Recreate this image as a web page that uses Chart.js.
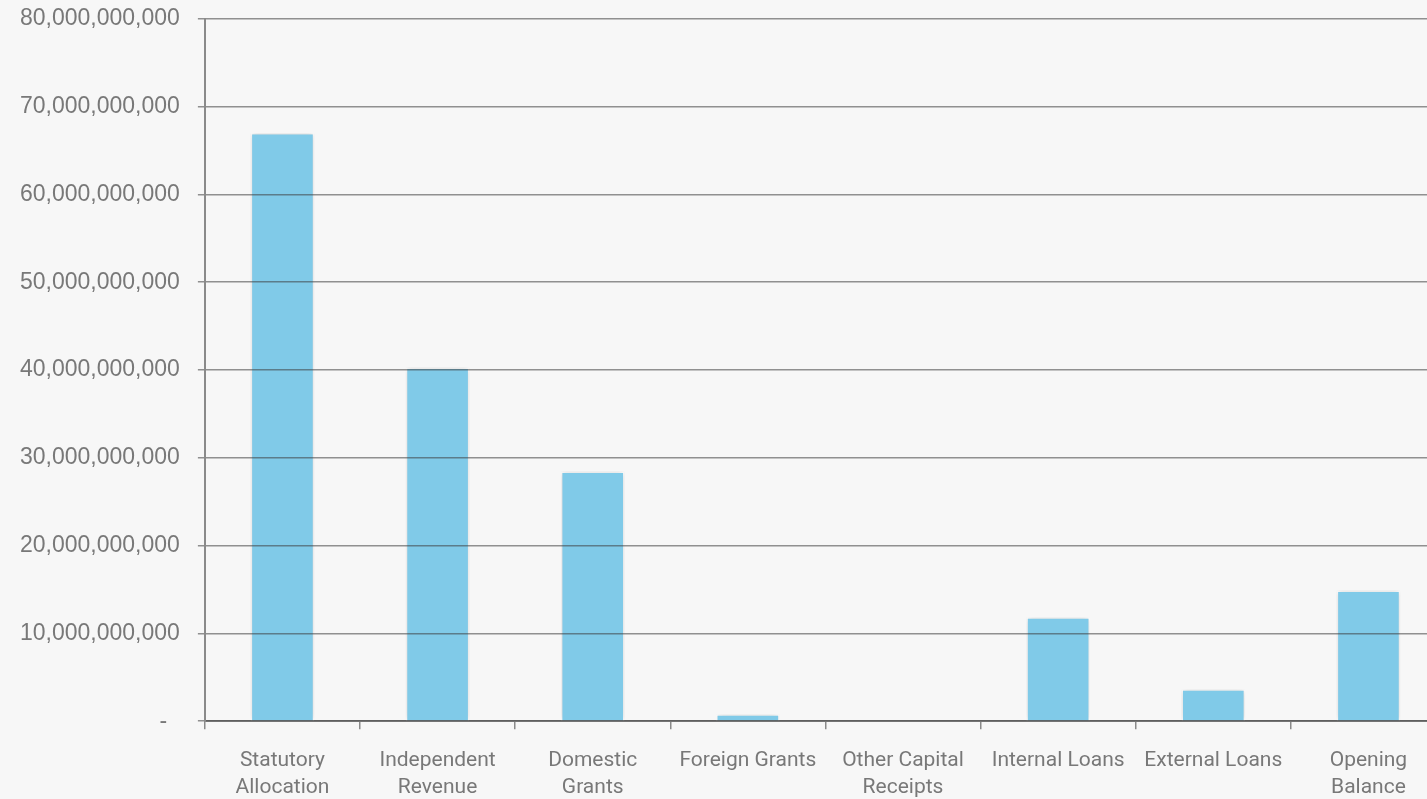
<!DOCTYPE html>
<html>
<head>
<meta charset="utf-8">
<script src="https://cdn.jsdelivr.net/npm/chart.js@4.4.1/dist/chart.umd.min.js"></script>
<style>
  html, body { margin: 0; padding: 0; background: #f7f7f7; overflow: hidden; }
  #wrap { position: absolute; top: -13px; left: 0; width: 1446px; height: 832px; }
</style>
</head>
<body>
<div id="wrap"><canvas id="grafico"></canvas></div>
<script>
// Categorías de ingresos (etiquetas en dos líneas)
const categorias = [
  ['Statutory', 'Allocation'],
  ['Independent', 'Revenue'],
  ['Domestic', 'Grants'],
  'Foreign Grants',
  ['Other Capital', 'Receipts'],
  'Internal Loans',
  'External Loans',
  ['Opening', 'Balance'],
];

// Montos por categoría
const montos = [
  67000000000,
  40300000000,
  28450000000,
  800000000,
  0,
  11850000000,
  3650000000,
  14900000000,
];

const ejeMin = 0;
const ejeMax = 80000000000;
const ejePaso = 10000000000;

// Sombra suave alrededor de las barras
const sombraBarras = {
  id: 'sombraBarras',
  beforeDatasetsDraw(chart) {
    const ctx = chart.ctx;
    ctx.save();
    ctx.shadowColor = 'rgba(0, 0, 0, 0.18)';
    ctx.shadowBlur = 6;
  },
  afterDatasetsDraw(chart) {
    chart.ctx.restore();
  },
};

function formatoMonto(valor) {
  if (valor === 0) return '-  ';
  return valor.toLocaleString('en-US');
}

const ctx = document.getElementById('grafico').getContext('2d');
new Chart(ctx, {
  type: 'bar',
  data: {
    labels: categorias,
    datasets: [{
      data: montos,
      backgroundColor: '#80cae8',
      borderColor: '#ffffff',
      borderWidth: 1.5,
      borderSkipped: 'bottom',
      barPercentage: 0.82,
      categoryPercentage: 0.5,
    }],
  },
  plugins: [sombraBarras],
  options: {
    responsive: true,
    maintainAspectRatio: false,
    animation: false,
    layout: { padding: { top: 0, right: 0, left: 2, bottom: 0 } },
    plugins: {
      legend: { display: false },
      tooltip: { enabled: false },
    },
    scales: {
      x: {
        grid: {
          display: true,
          drawOnChartArea: false,
          offset: true,
          tickLength: 8,
          color: '#8a8a8a',
          lineWidth: 1.5,
        },
        border: { color: '#8a8a8a', width: 2 },
        ticks: {
          color: '#787878',
          font: { family: 'Roboto', size: 21, lineHeight: 1.28 },
          maxRotation: 0,
          autoSkip: false,
          padding: 18,
        },
      },
      y: {
        min: ejeMin,
        max: ejeMax,
        // líneas de la cuadrícula por encima de las barras
        grid: {
          z: 1,
          color: 'rgba(60, 60, 60, 0.55)',
          lineWidth: 1.5,
          tickLength: 7,
        },
        border: { color: '#8a8a8a', width: 2, z: 1 },
        ticks: {
          stepSize: ejePaso,
          color: '#787878',
          font: { family: 'Liberation Sans', size: 23 },
          padding: 18,
          callback: formatoMonto,
        },
      },
    },
  },
});
</script>
</body>
</html>
